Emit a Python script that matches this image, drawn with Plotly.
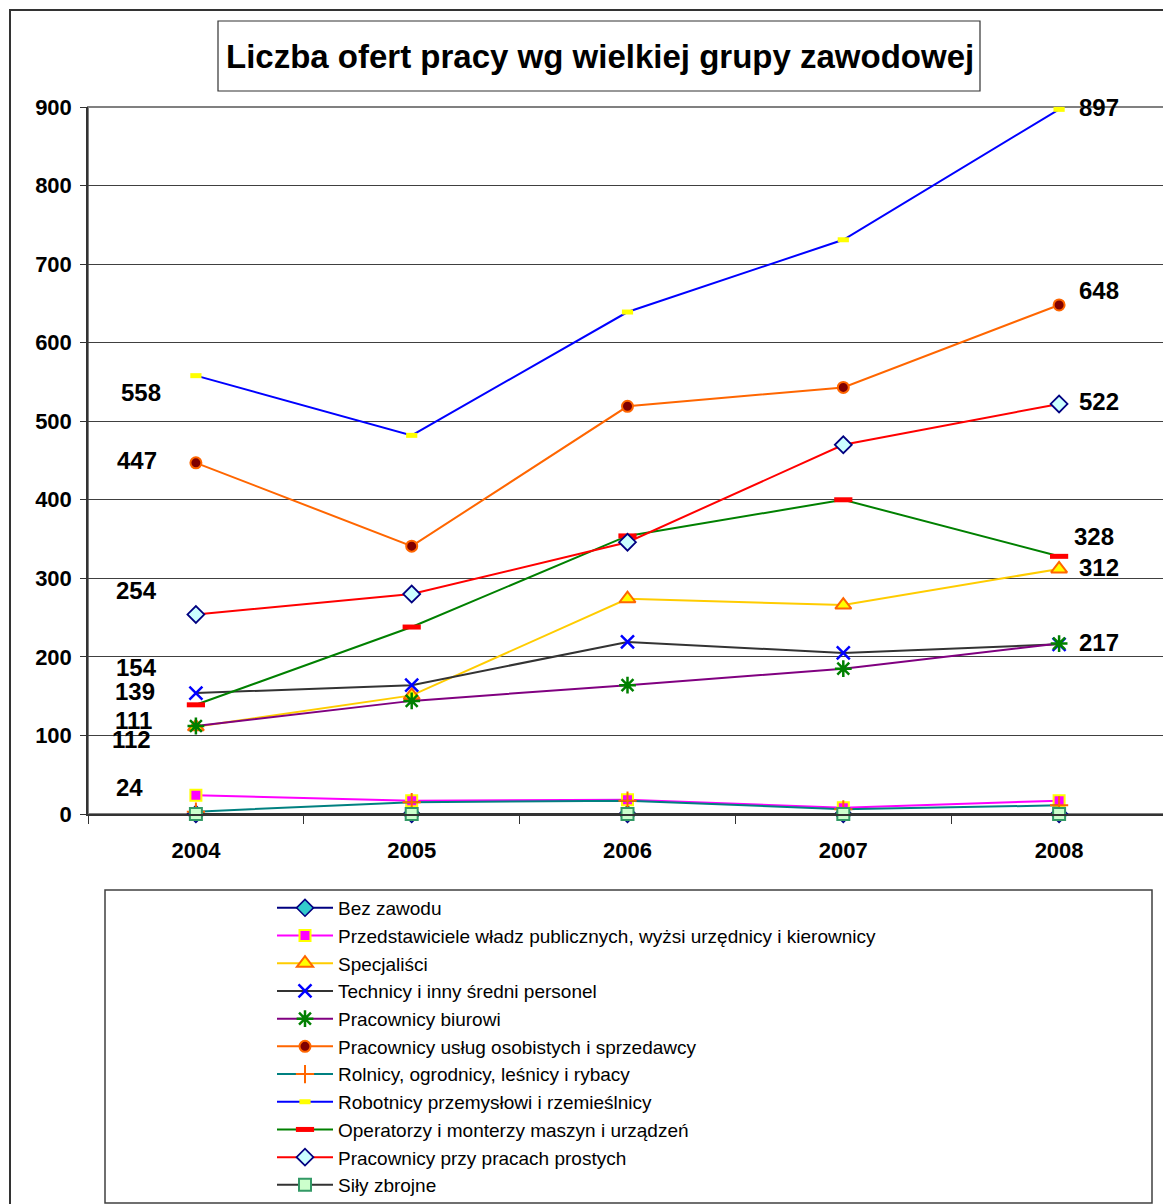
import plotly.graph_objects as go

YEARS = ["2004", "2005", "2006", "2007", "2008"]

BEZ_ZAWODU = [0, 0, 0, 0, 0]
PRZEDSTAWICIELE = [24, 17, 18, 8, 17]
SPECJALISCI = [111, 151, 274, 266, 312]
TECHNICY = [154, 164, 219, 205, 216]
BIUROWI = [112, 144, 164, 185, 217]
USLUGI = [447, 341, 519, 543, 648]
ROLNICY = [3, 15, 17, 6, 11]
ROBOTNICY = [558, 482, 639, 731, 897]
OPERATORZY = [139, 238, 354, 400, 328]
PROSTE = [254, 280, 346, 470, 522]
SILY_ZBROJNE = [0, 0, 0, 0, 0]

TITLE = "Liczba ofert pracy wg wielkiej grupy zawodowej"

# name, values, line colour, marker symbol, marker fill, marker border, marker size, border width
SERIES = [
    ("Bez zawodu", BEZ_ZAWODU, "#000080", "diamond", "#33CCCC", "#000080", 13, 1.5),
    ("Przedstawiciele władz publicznych, wyżsi urzędnicy i kierownicy", PRZEDSTAWICIELE,
     "#FF00FF", "square", "#FF00FF", "#FFFF00", 11, 2),
    ("Specjaliści", SPECJALISCI, "#FFCC00", "triangle-up", "#FFFF00", "#FF6600", 14, 2),
    ("Technicy i inny średni personel", TECHNICY, "#333333", "x-thin", "#0000FF", "#0000FF", 13, 2.5),
    ("Pracownicy biurowi", BIUROWI, "#800080", "asterisk", "#008000", "#008000", 14, 2.5),
    ("Pracownicy usług osobistych i sprzedawcy", USLUGI, "#FF6600", "circle", "#800000", "#FF6600", 11, 2),
    ("Rolnicy, ogrodnicy, leśnicy i rybacy", ROLNICY, "#008080", "cross-thin", "#FF6600", "#FF6600", 13, 2),
    ("Robotnicy przemysłowi i rzemieślnicy", ROBOTNICY, "#0000FF", "line-ew", "#FFFF00", "#FFFF00", 8, 5),
    ("Operatorzy i monterzy maszyn i urządzeń", OPERATORZY, "#008000", "line-ew", "#FF0000", "#FF0000", 13, 5),
    ("Pracownicy przy pracach prostych", PROSTE, "#FF0000", "diamond", "#CCFFFF", "#000080", 13, 1.8),
    ("Siły zbrojne", SILY_ZBROJNE, "#333333", "square", "#CCFFCC", "#339966", 12, 2),
]

# data labels: (year, value, xshift, yshift)
LABELS = [
    ("2004", 558, -55, -17), ("2004", 447, -59, 2), ("2004", 254, -59, 24),
    ("2004", 154, -59, 26), ("2004", 139, -61, 13), ("2004", 111, -62, 6),
    ("2004", 112, -64, -13), ("2004", 24, -66, 8),
    ("2008", 897, 40, 2), ("2008", 648, 40, 14), ("2008", 522, 40, 2),
    ("2008", 328, 35, 20), ("2008", 312, 40, 1), ("2008", 217, 40, 1),
]

FONT = "Liberation Sans, Arial, sans-serif"

fig = go.Figure()
for name, vals, lc, sym, fill, edge, size, bw in SERIES:
    fig.add_trace(go.Scatter(
        x=YEARS, y=vals, name=name, mode="lines+markers",
        line=dict(color=lc, width=2),
        marker=dict(symbol=sym, size=size, color=fill, line=dict(color=edge, width=bw)),
        cliponaxis=False,
    ))

for yr, val, dx, dy in LABELS:
    fig.add_annotation(
        x=YEARS.index(yr), y=val, xref="x", yref="y", text=str(val), showarrow=False,
        xshift=dx, yshift=dy, font=dict(family=FONT, size=24, color="black", weight="bold"),
    )

# paper coordinates: plot area spans screen pixels x 88..1167, y 107..814
# (the page body adds an 8px offset, so figure margins are 8px smaller)
def px(x):
    return (x - 88) / 1079


def py(y):
    return (814 - y) / 707


# outer chart frame
fig.add_shape(type="rect", xref="paper", yref="paper", x0=px(10), x1=px(1190),
              y0=py(1230), y1=py(10), line=dict(color="#333333", width=2), layer="below")
# title box
fig.add_shape(type="rect", xref="paper", yref="paper", x0=px(218), x1=px(980),
              y0=py(91), y1=py(21), line=dict(color="#333333", width=1.2))
fig.add_annotation(xref="paper", yref="paper", x=px(600), y=py(56), text=TITLE,
                   xanchor="center", yanchor="middle", showarrow=False,
                   font=dict(family=FONT, size=33, color="black", weight="bold"))
# legend box
fig.add_shape(type="rect", xref="paper", yref="paper", x0=px(105), x1=px(1152),
              y0=py(1203), y1=py(890), line=dict(color="#404040", width=1.5))

fig.update_xaxes(
    type="category", range=[-0.5, 4.5], showline=True, linecolor="#333333", linewidth=2,
    ticks="outside", tickson="boundaries", ticklen=8, tickcolor="#333333",
    tickfont=dict(family=FONT, size=22, color="black", weight="bold"),
    ticklabelstandoff=16, showgrid=False, mirror=False,
)
fig.update_yaxes(
    range=[0, 900], dtick=100, showline=True, linecolor="#333333", linewidth=1.5,
    ticks="outside", ticklen=6, tickcolor="#333333",
    tickfont=dict(family=FONT, size=22, color="black", weight="bold"),
    ticklabelstandoff=4, showgrid=True, gridcolor="#404040", gridwidth=1, zeroline=False,
)
# gray top and right border of the plot area
fig.add_shape(type="rect", xref="paper", yref="paper", x0=0, x1=1, y0=0, y1=1,
              line=dict(color="#808080", width=2), layer="below")

fig.update_layout(
    width=1171, height=1204,
    margin=dict(l=80, r=12, t=99, b=398, autoexpand=False),
    plot_bgcolor="white", paper_bgcolor="white",
    showlegend=True,
    legend=dict(
        x=px(272), y=py(889), xanchor="left", yanchor="top",
        font=dict(family=FONT, size=19, color="black"),
        itemwidth=56,
        bgcolor="rgba(0,0,0,0)", borderwidth=0, traceorder="normal",
    ),
)

fig.write_html("out.html")
